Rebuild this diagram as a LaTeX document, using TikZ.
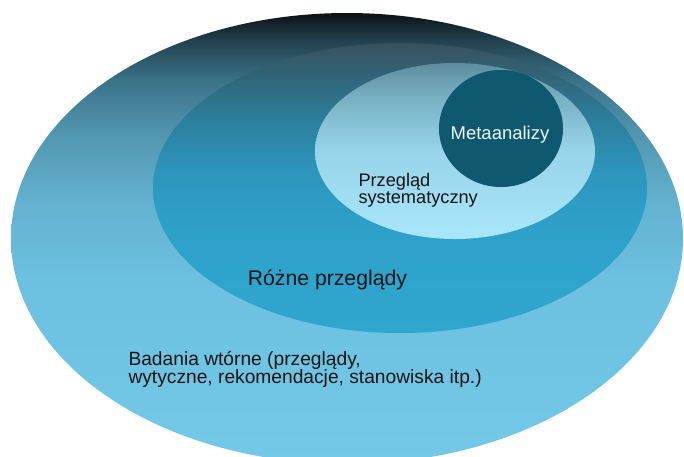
\documentclass[tikz,border=0pt]{standalone}
\usepackage{fontspec}
\setmainfont{Liberation Sans}
\definecolor{oA}{HTML}{0B1115}
\definecolor{oB}{HTML}{22404E}
\definecolor{oC}{HTML}{3A7287}
\definecolor{oD}{HTML}{5194AE}
\definecolor{oE}{HTML}{63B1CF}
\definecolor{oF}{HTML}{6CC0E0}
\definecolor{oG}{HTML}{73C9E7}
\definecolor{mA}{HTML}{39505D}
\definecolor{mB}{HTML}{30677B}
\definecolor{mC}{HTML}{2D7F9D}
\definecolor{mD}{HTML}{2D95BB}
\definecolor{mE}{HTML}{2EA1C9}
\definecolor{mF}{HTML}{2FA6CF}
\definecolor{iA}{HTML}{5E8D9D}
\definecolor{iB}{HTML}{7AB2C5}
\definecolor{iC}{HTML}{97D4E9}
\definecolor{iD}{HTML}{A8E6FA}
\definecolor{metac}{HTML}{0E5870}
\definecolor{textc}{HTML}{141414}
\definecolor{metatext}{HTML}{EEF6F9}
\pgfdeclareverticalshading{outersh}{100bp}{color(0bp)=(oG); color(25bp)=(oG); color(45.4bp)=(oF); color(54.3bp)=(oE); color(62bp)=(oD); color(67.6bp)=(oC); color(72bp)=(oB); color(75bp)=(oA); color(100bp)=(oA)}
\pgfdeclareverticalshading{midsh}{100bp}{color(0bp)=(mF); color(25bp)=(mF); color(42.8bp)=(mE); color(53.1bp)=(mD); color(61.7bp)=(mC); color(68.6bp)=(mB); color(75bp)=(mA); color(100bp)=(mA)}
\pgfdeclareverticalshading{innersh}{100bp}{color(0bp)=(iD); color(25bp)=(iD); color(50.3bp)=(iC); color(64.5bp)=(iB); color(75bp)=(iA); color(100bp)=(iA)}
\begin{document}
\begin{tikzpicture}[x=1pt,y=-1pt,
  txt/.style={inner sep=0pt, anchor=base west, text=textc, align=left}]
\useasboundingbox (0,0) rectangle (684,456);
\clip (0,0) rectangle (684,456);
% layers
\shade[shading=outersh] (347,238.5) ellipse [x radius=336pt, y radius=225.5pt];
\shade[shading=midsh] (400,188) ellipse [x radius=247pt, y radius=145pt];
\shade[shading=innersh] (455,151) ellipse [x radius=140pt, y radius=88pt];
\fill[metac] (501,128.5) ellipse [x radius=62pt, y radius=58.5pt];
% labels (base anchor = baseline of the last line)
\node[txt, anchor=base, text=metatext, font=\fontsize{18.5}{20}\selectfont] (meta) at (500,139.3) {Metaanalizy};
\node[txt, font={\fontsize{18.2}{17.1}\selectfont\lineskiplimit=-100pt}] (prz) at (358.3,203.5) {Przegląd\\systematyczny};
\node[txt, font=\fontsize{21.2}{22}\selectfont] (rozne) at (247.7,285) {Różne przeglądy};
\node[txt, font={\fontsize{19.2}{18.3}\selectfont\lineskiplimit=-100pt}] (bad) at (128.3,383.3) {Badania wtórne (przeglądy,\\wytyczne, rekomendacje, stanowiska itp.)};
\end{tikzpicture}
\end{document}
